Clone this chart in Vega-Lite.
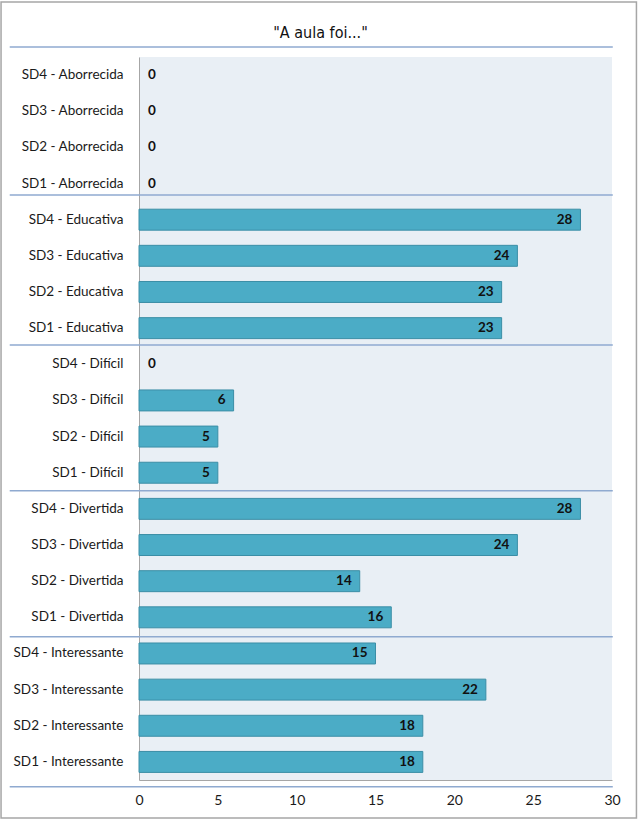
{
  "$schema": "https://vega.github.io/schema/vega-lite/v6.json",
  "width": 473,
  "height": 723,
  "autosize": {"type": "none"},
  "padding": {"left": 139, "top": 57, "right": 27, "bottom": 40},
  "background": "white",
  "title": {
    "text": "\"A aula foi...\"",
    "font": "DejaVu Sans Condensed, Liberation Sans, sans-serif",
    "fontSize": 16,
    "fontWeight": "normal",
    "color": "#111111",
    "anchor": "middle",
    "frame": "group",
    "dx": -55,
    "offset": -40
  },
  "config": {
    "view": {"fill": "#E9EFF5", "stroke": null},
    "font": "Lato"
  },
  "datasets": {
    "bars": [
      {"cat": "SD4 - Aborrecida", "v": 0},
      {"cat": "SD3 - Aborrecida", "v": 0},
      {"cat": "SD2 - Aborrecida", "v": 0},
      {"cat": "SD1 - Aborrecida", "v": 0},
      {"cat": "SD4 - Educativa", "v": 28},
      {"cat": "SD3 - Educativa", "v": 24},
      {"cat": "SD2 - Educativa", "v": 23},
      {"cat": "SD1 - Educativa", "v": 23},
      {"cat": "SD4 - Difícil", "v": 0},
      {"cat": "SD3 - Difícil", "v": 6},
      {"cat": "SD2 - Difícil", "v": 5},
      {"cat": "SD1 - Difícil", "v": 5},
      {"cat": "SD4 - Divertida", "v": 28},
      {"cat": "SD3 - Divertida", "v": 24},
      {"cat": "SD2 - Divertida", "v": 14},
      {"cat": "SD1 - Divertida", "v": 16},
      {"cat": "SD4 - Interessante", "v": 15},
      {"cat": "SD3 - Interessante", "v": 22},
      {"cat": "SD2 - Interessante", "v": 18},
      {"cat": "SD1 - Interessante", "v": 18}
    ],
    "separators": [
      {"at": -0.28},
      {"at": 3.82},
      {"at": 7.97},
      {"at": 12.0},
      {"at": 16.04},
      {"at": 20.19}
    ]
  },
  "layer": [
    {
      "data": {"name": "bars"},
      "layer": [
        {
          "mark": {"type": "bar", "color": "#4BACC6", "stroke": "#3B8EA6", "strokeWidth": 1},
          "encoding": {
            "y": {
              "field": "cat", "type": "nominal", "sort": null,
              "scale": {"paddingInner": 0.42, "paddingOuter": 0.21},
              "axis": {
                "title": null, "ticks": false, "labelPadding": 16,
                "labelFontSize": 13.5, "labelColor": "#1a1a1a", "labelFont": "Lato",
                "domainColor": "#A6A6A6", "grid": false
              }
            },
            "x": {
              "field": "v", "type": "quantitative",
              "scale": {"domain": [0, 30], "nice": false},
              "axis": {
                "title": null, "values": [0, 5, 10, 15, 20, 25, 30], "ticks": false,
                "grid": false, "labelPadding": 13, "labelFontSize": 14,
                "labelColor": "#1a1a1a", "labelFont": "Lato", "domainColor": "#A6A6A6",
                "labelFlush": false
              }
            },
            "opacity": {"condition": {"test": "datum.v == 0", "value": 0}, "value": 1}
          }
        },
        {
          "transform": [{"filter": "datum.v > 0"}],
          "mark": {"type": "text", "align": "right", "dx": -8, "fontWeight": "bold", "fontSize": 13.5, "font": "Lato", "color": "#111111"},
          "encoding": {
            "y": {"field": "cat", "type": "nominal", "sort": null},
            "x": {"field": "v", "type": "quantitative"},
            "text": {"field": "v", "type": "quantitative"}
          }
        },
        {
          "transform": [{"filter": "datum.v == 0"}],
          "mark": {"type": "text", "align": "left", "dx": 9, "fontWeight": "bold", "fontSize": 13.5, "font": "Lato", "color": "#111111"},
          "encoding": {
            "y": {"field": "cat", "type": "nominal", "sort": null},
            "x": {"field": "v", "type": "quantitative"},
            "text": {"field": "v", "type": "quantitative"}
          }
        }
      ]
    },
    {
      "data": {"name": "separators"},
      "layer": [
        {
          "mark": {"type": "rule", "color": "#8FAAD0", "strokeWidth": 1.5},
          "encoding": {
            "y": {"field": "at", "type": "quantitative", "scale": {"domain": [0, 20], "reverse": true, "nice": false, "zero": false}, "axis": null},
            "x": {"datum": -8.2, "type": "quantitative"},
            "x2": {"datum": 30.05}
          }
        }
      ]
    },
    {
      "data": {"values": [{}]},
      "mark": {"type": "rect", "fill": null, "stroke": "#A6A6A6", "strokeWidth": 1.5},
      "encoding": {
        "x": {"datum": -8.75, "type": "quantitative"},
        "x2": {"datum": 31.55},
        "y": {"datum": -1.52, "type": "quantitative", "scale": {"domain": [0, 20], "reverse": true, "nice": false, "zero": false}, "axis": null},
        "y2": {"datum": 21.05}
      }
    }
  ],
  "resolve": {"scale": {"y": "independent"}}
}
